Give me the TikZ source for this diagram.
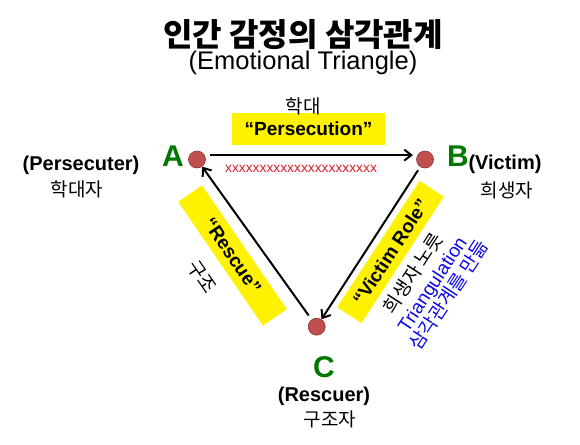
\documentclass[tikz,border=0pt]{standalone}
\usepackage{fontspec}
\setmainfont{Liberation Sans}
\newfontfamily\kr{Noto Sans CJK KR}
\usetikzlibrary{arrows.meta}
\definecolor{dotred}{RGB}{192,80,77}
\definecolor{dotedge}{RGB}{140,56,54}
\definecolor{lgreen}{RGB}{0,120,0}
\definecolor{xred}{RGB}{220,30,40}
\definecolor{tblue}{RGB}{10,10,230}
\begin{document}
\begin{tikzpicture}[x=1pt,y=-1pt,
 dot/.style={circle,fill=dotred,draw=dotedge,line width=0.6pt,minimum size=17pt,inner sep=0pt},
 letter/.style={text=lgreen,font=\fontsize{30}{30}\selectfont\bfseries,inner sep=0pt},
 lab/.style={font=\fontsize{20}{20}\selectfont\bfseries,inner sep=0pt},
 krlab/.style={font=\kr\fontsize{19}{19}\selectfont,inner sep=0pt},
 ybox/.style={fill=yellow,inner sep=0pt,font=\fontsize{19}{19}\selectfont\bfseries},
 arr/.style={line width=2pt,-{Straight Barb[length=7pt,width=11pt]}}]
\useasboundingbox (0,0) rectangle (580,444);
\fill[white] (0,0) rectangle (580,444);

% titles
\node[font=\kr\fontsize{32}{32}\selectfont\bfseries,inner sep=0pt] (title) at (303,35) {인간 감정의 삼각관계};
\node[font=\fontsize{25.5}{25.5}\selectfont,inner sep=0pt] (sub) at (303,63) {(Emotional Triangle)};

% yellow boxes
\node[ybox,minimum width=153pt,minimum height=32pt] (pers) at (308.5,129) {“Persecution”};
\node[ybox,minimum width=150pt,minimum height=29pt,rotate=-55.6] (resc) at (232.5,255.5) {“Rescue”};
\node[ybox,minimum width=151pt,minimum height=29pt,rotate=56.9] (vict) at (390.5,252) {“Victim Role”};

% dots
\node[dot] (A) at (197,159.5) {};
\node[dot] (B) at (425,159.5) {};
\node[dot] (C) at (316.7,326.7) {};

% letters
\node[letter] (la) at (173,156) {A};
\node[letter] (lb) at (458,156) {B};
\node[letter] (lc) at (324,367) {C};

% connectors
\draw[arr,shorten <=5.5pt,shorten >=4.5pt] (A.30) -- (B.150);
\draw[arr,shorten <=4pt] (B) -- (C);
\draw[arr,shorten <=5pt] (C) -- (A);

% labels
\node[krlab] (hakdae) at (303,106) {학대};
\node[text=xred,font=\fontsize{13.8}{14}\selectfont,inner sep=0pt] (xs) at (301,169) {xxxxxxxxxxxxxxxxxxxxxx};
\node[lab] (persr) at (81,165) {(Persecuter)};
\node[krlab] (persk) at (77,189) {학대자};
\node[lab] (victr) at (505,164) {(Victim)};
\node[krlab] (victk) at (507,190) {희생자};
\node[lab] (rescr) at (324,396) {(Rescuer)};
\node[krlab] (resck) at (330,419) {구조자};
\node[krlab,rotate=-55.6] (gujo) at (202,277) {구조};
\node[krlab,rotate=56.9] (norut) at (413,273) {희생자 노릇};
\node[rotate=56.9,align=center,text=tblue,font=\fontsize{19}{20}\selectfont,inner sep=0pt] (tri) at (441,290) {Triangulation\\{\kr 삼각관계를 만듦}};
\end{tikzpicture}
\end{document}
